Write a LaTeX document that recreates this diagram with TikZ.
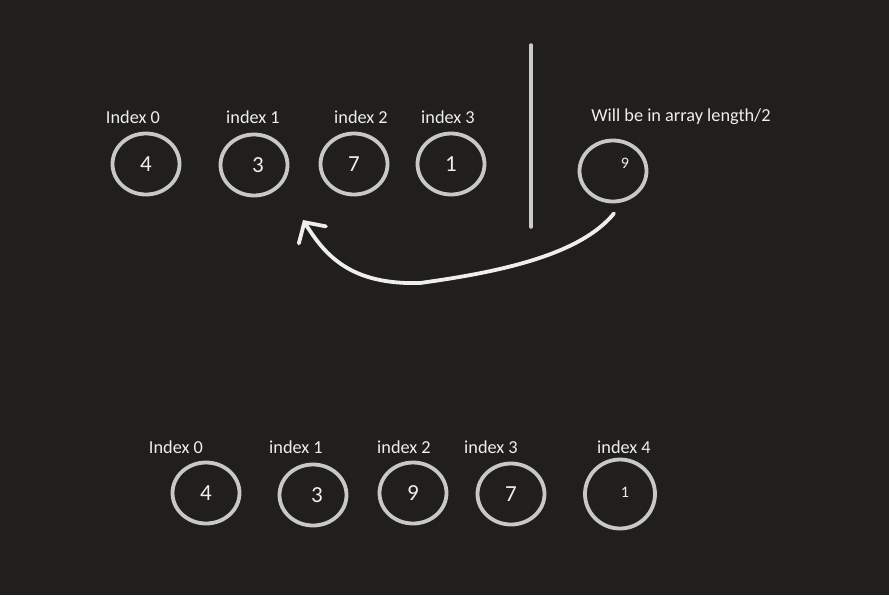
\documentclass[tikz,border=0pt]{standalone}
\usepackage{fontspec}
\setmainfont{Carlito}
\definecolor{boardbg}{RGB}{32, 31, 30}
\definecolor{ringgray}{RGB}{200, 200, 198}
\definecolor{chalkwhite}{RGB}{238, 238, 234}
\usepackage{tikz}
\usetikzlibrary{
    shapes.geometric,
    arrows.meta,
    positioning,
    calc
}
\tikzstyle{cell} = [
    ellipse,
    draw=ringgray,
    line width=3.8pt,
    minimum width=67pt,
    minimum height=61pt,
    inner sep=0pt,
    text=chalkwhite,
    font=\fontsize{23}{25}\selectfont
]
\tikzstyle{idx} = [
    text=chalkwhite,
    inner sep=0pt,
    font=\fontsize{18.3}{20}\selectfont
]

\begin{document}
\begin{tikzpicture}[
    x=1pt, y=-1pt,
    divider/.style={draw=ringgray!95, line width=3.5pt, line cap=round},
    smallval/.style={text=chalkwhite, font=\fontsize{16}{18}\selectfont}
]
    % Board
    \fill[boardbg] (0,0) rectangle (889,595);
    \useasboundingbox (0,0) rectangle (889,595);

    % Array before
    \node[idx] (ta) at (133,117) {Index 0};
    \node[idx] (tb) at (253,117) {index 1};
    \node[idx] (tc) at (361,117) {index 2};
    \node[idx] (td) at (448,117) {index 3};
    \node[cell] (a0) at (146,164) {4};
    \node[cell] (a1) at (254,165) {\hspace{8pt}3};
    \node[cell] (a2) at (354,164) {7\hspace{8pt}};
    \node[cell] (a3) at (451,164) {1};

    % Divider
    \coordinate (topend) at (531,45);
    \coordinate (botend) at (531,227);
    \draw[divider] (topend) -- (botend);

    % New element
    \node[idx] (tn) at (681,117) {Will be in array length/2};
    \node[cell] (nv) at (613,171) {};
    \node[smallval] (nine) at ($(nv.center)+(12,-8)$) {9};

    % Insert arrow
    \coordinate (arrS) at ($(nv.south)+(1,10)$);
    \coordinate (arrE) at (303,220);
    \draw[chalkwhite, line width=3.8pt, line cap=round,
          -{Straight Barb[length=15pt, width=32pt, line cap=round]}]
        (arrS) .. controls (580,255) and (500,272) .. (420,283)
               .. controls (350,285) and (325,255) .. (arrE);

    % Array after
    \node[idx] (ua) at (176,447) {Index 0};
    \node[idx] (ub) at (296,447) {index 1};
    \node[idx] (uc) at (404,447) {index 2};
    \node[idx] (ud) at (491,447) {index 3};
    \node[idx] (ue) at (624,447) {index 4};
    \node[cell] (b0) at (206,493) {4};
    \node[cell] (b1) at (313,495) {\hspace{8pt}3};
    \node[cell] (b2) at (413,493) {9\hspace{6pt}};
    \node[cell] (b3) at (511,494) {7\hspace{8pt}};
    \node[cell, minimum width=70pt, minimum height=69pt] (b4) at (620,494) {};
    \node[smallval] (one) at ($(b4.center)+(5,-2)$) {1};

\end{tikzpicture}
\end{document}
